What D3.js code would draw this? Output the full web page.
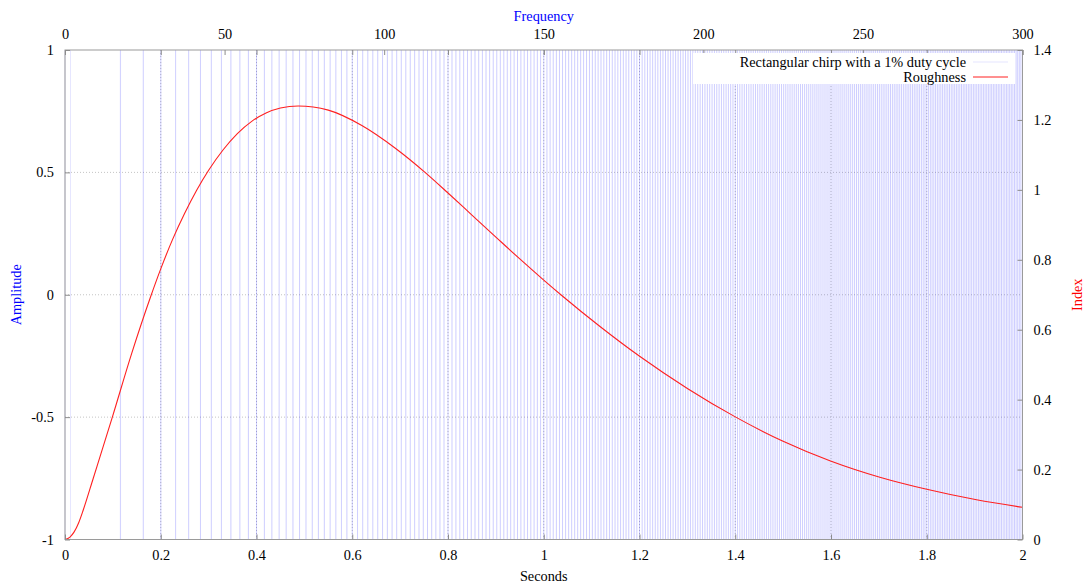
<!DOCTYPE html>
<html>
<head>
<meta charset="utf-8">
<script src="https://cdn.jsdelivr.net/npm/d3@7"></script>
<style>
  html, body { margin: 0; padding: 0; background: #fff; }
  svg { display: block; font-family: "Liberation Serif", "Times New Roman", serif; }
</style>
</head>
<body>
<svg id="chart" width="1084" height="585"></svg>
<script>
// Rectangular chirp: linear sweep, pulse train with a 1% duty cycle
const chirpStartHz = 0;
const chirpEndHz = 300;
const chirpDuration = 2;
const dutyCycle = 0.01;

// Roughness index along the sweep (seconds, index)
const roughnessTime  = [0, 0.0104, 0.0188, 0.0286, 0.0383, 0.0592, 0.0989, 0.139, 0.179, 0.2, 0.225, 0.25, 0.275, 0.3, 0.33, 0.36, 0.39, 0.42, 0.45, 0.487, 0.55, 0.62, 0.69, 0.752, 0.8, 0.85, 0.9, 0.95, 1.0, 1.037, 1.1175, 1.201, 1.3, 1.401, 1.5, 1.599, 1.702, 1.8, 1.904, 2.0];
const roughnessIndex = [0, 0.007, 0.021, 0.048, 0.085, 0.176, 0.35, 0.531, 0.695, 0.774, 0.859, 0.933, 0.999, 1.056, 1.114, 1.161, 1.196, 1.22, 1.234, 1.24, 1.228, 1.184, 1.119, 1.05, 0.991, 0.928, 0.865, 0.8025, 0.742, 0.6987, 0.6093, 0.5233, 0.432, 0.35, 0.281, 0.2245, 0.178, 0.1435, 0.1135, 0.092];

// Axis ticks
const secondsTicks   = [0, 0.2, 0.4, 0.6, 0.8, 1, 1.2, 1.4, 1.6, 1.8, 2];
const frequencyTicks = [0, 50, 100, 150, 200, 250, 300];
const amplitudeTicks = [-1, -0.5, 0, 0.5, 1];
const indexTicks     = [0, 0.2, 0.4, 0.6, 0.8, 1, 1.2, 1.4];

const legendLabels = ["Rectangular chirp with a 1% duty cycle", "Roughness"];

const svg = d3.select("#chart");
const plotLeft = 65, plotRight = 1022.5, plotTop = 50, plotBottom = 539.5;
const fontSize = "14.3px";

const x  = d3.scaleLinear().domain([0, chirpDuration]).range([plotLeft, plotRight]);
const xf = d3.scaleLinear().domain([chirpStartHz, chirpEndHz]).range([plotLeft, plotRight]);
const yA = d3.scaleLinear().domain([-1, 1]).range([plotBottom, plotTop]);
const yI = d3.scaleLinear().domain([0, 1.4]).range([plotBottom, plotTop]);

const fmt = d => String(d);
const chirpColor = "#0000ff";
const chirpOpacity = 0.1;
const roughColor = "#ff2020";

// Pulse edges: phase(t) = f0 t + (f1 - f0) t^2 / (2T); a pulse starts at each whole cycle
const sweepRate = (chirpEndHz - chirpStartHz) / chirpDuration;
function cycleTime(p) {
  if (sweepRate === 0) return p / chirpStartHz;
  return (-chirpStartHz + Math.sqrt(chirpStartHz * chirpStartHz + 2 * sweepRate * p)) / sweepRate;
}
const pulses = [];
for (let n = 0; ; n++) {
  const on = cycleTime(n);
  if (on >= chirpDuration) break;
  pulses.push({ on: on, off: Math.min(cycleTime(n + dutyCycle), chirpDuration) });
}

// Grid (dotted)
const grid = svg.append("g").attr("stroke", "#c4c4c4").attr("stroke-width", 1).attr("stroke-dasharray", "1,2");
grid.selectAll("line.gx").data(secondsTicks.slice(1, -1)).join("line")
  .attr("x1", d => x(d)).attr("x2", d => x(d)).attr("y1", plotTop).attr("y2", plotBottom);
grid.selectAll("line.gy").data(amplitudeTicks.slice(1, -1)).join("line")
  .attr("x1", plotLeft).attr("x2", plotRight).attr("y1", d => yA(d)).attr("y2", d => yA(d));

// Chirp pulses: rising and falling edges
const edges = [];
pulses.forEach(p => { edges.push(p.on); edges.push(p.off); });
svg.append("g").attr("stroke", chirpColor).attr("stroke-opacity", chirpOpacity).attr("stroke-width", 1)
  .selectAll("line").data(edges).join("line")
  .attr("x1", d => x(d)).attr("x2", d => x(d)).attr("y1", yA(-1)).attr("y2", yA(1));

// Roughness curve
const rough = roughnessTime.map((t, i) => [t, roughnessIndex[i]]);
svg.append("path").datum(rough)
  .attr("fill", "none").attr("stroke", roughColor).attr("stroke-width", 1.1)
  .attr("d", d3.line().x(d => x(d[0])).y(d => yI(d[1])).curve(d3.curveMonotoneX));

// Frame
svg.append("rect").attr("x", plotLeft).attr("y", plotTop).attr("width", plotRight - plotLeft).attr("height", plotBottom - plotTop)
  .attr("fill", "none").attr("stroke", "#9a9a9a").attr("stroke-width", 1);

// Axes
function styleAxis(g) {
  g.select(".domain").remove();
  g.selectAll(".tick line").attr("stroke", "#8c8c8c");
  g.selectAll(".tick text").attr("fill", "#000").style("font-size", fontSize).style("font-family", "Liberation Serif, serif");
}
svg.append("g").attr("transform", `translate(0,${plotBottom})`)
  .call(d3.axisBottom(x).tickValues(secondsTicks).tickFormat(fmt).tickSize(-5).tickPadding(10)).call(styleAxis);
svg.append("g").attr("transform", `translate(0,${plotTop})`)
  .call(d3.axisTop(x).tickValues(secondsTicks).tickFormat("").tickSize(-5)).call(styleAxis);
svg.append("g").attr("transform", `translate(0,${plotTop})`)
  .call(d3.axisTop(xf).tickValues(frequencyTicks).tickFormat(fmt).tickSize(-5).tickPadding(11)).call(styleAxis);
svg.append("g").attr("transform", `translate(${plotLeft},0)`)
  .call(d3.axisLeft(yA).tickValues(amplitudeTicks).tickFormat(fmt).tickSize(-5).tickPadding(11)).call(styleAxis);
svg.append("g").attr("transform", `translate(${plotRight},0)`)
  .call(d3.axisRight(yI).tickValues(indexTicks).tickFormat(fmt).tickSize(-5).tickPadding(11)).call(styleAxis);

// Axis titles
const titles = svg.append("g").style("font-size", fontSize);
titles.append("text").attr("x", (plotLeft + plotRight) / 2).attr("y", 21).attr("text-anchor", "middle").attr("fill", "#0000ff").text("Frequency");
titles.append("text").attr("x", (plotLeft + plotRight) / 2).attr("y", 581).attr("text-anchor", "middle").attr("fill", "#000").text("Seconds");
titles.append("text").attr("transform", `translate(20.5,${(plotTop + plotBottom) / 2}) rotate(-90)`).attr("text-anchor", "middle").attr("fill", "#0000ff").text("Amplitude");
titles.append("text").attr("transform", `translate(1081.5,${(plotTop + plotBottom) / 2}) rotate(-90)`).attr("text-anchor", "middle").attr("fill", "#ff0000").text("Index");

// Legend
const lg = svg.append("g");
lg.append("rect").attr("x", 693).attr("y", 53).attr("width", 322).attr("height", 31).attr("fill", "#fff");
const legendColors = [chirpColor, roughColor];
const legendOpacity = [chirpOpacity, 1];
legendLabels.forEach((label, i) => {
  const cy = 62 + i * 15;
  lg.append("text").attr("x", 966).attr("y", cy + 5).attr("text-anchor", "end").style("font-size", fontSize).text(label);
  lg.append("line").attr("x1", 973).attr("x2", 1008).attr("y1", cy).attr("y2", cy)
    .attr("stroke", legendColors[i]).attr("stroke-opacity", legendOpacity[i]).attr("stroke-width", 1);
});
</script>
</body>
</html>
